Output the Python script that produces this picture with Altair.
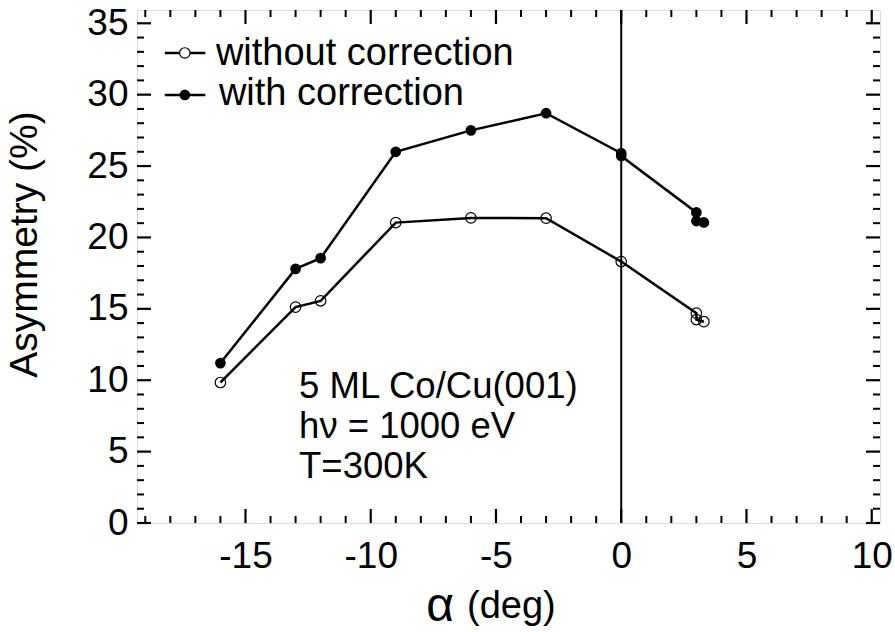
import altair as alt
import pandas as pd

# Measured asymmetry versus emission angle
angle_without = [-16, -13, -12, -9, -6, -3, 0, 3, 3, 3.3]
asym_without = [9.84, 15.12, 15.56, 21.04, 21.37, 21.35, 18.31, 14.7, 14.25, 14.1]

angle_with = [-16, -13, -12, -9, -6, -3, 0, 0, 3, 3, 3.3]
asym_with = [11.2, 17.8, 18.55, 26.0, 27.5, 28.7, 25.9, 25.7, 21.75, 21.15, 21.05]

series_names = ["without correction", "with correction"]

x_major = [-15, -10, -5, 0, 5, 10]
x_minor = [v for v in range(-19, 11) if v % 5 != 0]
y_major = [0, 5, 10, 15, 20, 25, 30, 35]
y_minor = [v for v in range(0, 36) if v % 5 != 0]

# legend rows: marker position, line ends, label position
legend_y_marker = [32.92, 29.98]
legend_y_text = [32.08, 29.28]
legend_x_line = [-18.22, -16.6]
legend_x_marker = -17.42
legend_x_text = [-16.18, -16.06]

note_lines = ["5 ML Co/Cu(001)", "h\u03bd = 1000 eV", "T=300K"]
note_x = -12.86
note_y = [8.74, 5.94, 3.14]

W, H = 743, 513
FONT = "Liberation Sans"

# plain hyphen for negative tick labels
HYPHEN_LABELS = "datum.value < 0 ? '-' + abs(datum.value) : '' + datum.value"

x_scale = alt.Scale(domain=[-19.33, 10.33], nice=False, zero=False)
y_scale = alt.Scale(domain=[0, 35.93], nice=False, zero=False)

x_axis = alt.Axis(values=x_major, ticks=False, domain=False, grid=False,
                  labelFontSize=37, labelFont=FONT, labelColor="black",
                  labelPadding=15, title=None, labelFlush=False,
                  labelExpr=HYPHEN_LABELS)
y_axis = alt.Axis(values=y_major, ticks=False, domain=False, grid=False,
                  labelFontSize=37, labelFont=FONT, labelColor="black",
                  labelPadding=9, title="Asymmetry (%)", titleFont=FONT,
                  titleFontSize=39, titleFontWeight="normal", titleColor="black",
                  titleAngle=270, titleX=-101, titleY=234,
                  titleBaseline="alphabetic", titleAlign="center", labelFlush=False)

X = lambda: alt.X("x:Q", scale=x_scale, axis=x_axis)
Y = lambda: alt.Y("y:Q", scale=y_scale, axis=y_axis)

df_without = pd.DataFrame({"x": angle_without, "y": asym_without,
                           "i": range(len(angle_without))})
df_with = pd.DataFrame({"x": angle_with, "y": asym_with,
                        "i": range(len(angle_with))})

line_w = alt.Chart(df_without).mark_line(color="black", strokeWidth=2.5).encode(
    x=X(), y=Y(), order="i:O")
pts_w = alt.Chart(df_without).mark_point(filled=False, color="black", size=110,
                                         strokeWidth=1.2, opacity=1).encode(x=X(), y=Y())
line_c = alt.Chart(df_with).mark_line(color="black", strokeWidth=2.5).encode(
    x=X(), y=Y(), order="i:O")
pts_c = alt.Chart(df_with).mark_circle(color="black", size=115, opacity=1).encode(
    x=X(), y=Y())

# vertical reference line at normal emission
zero_line = alt.Chart(pd.DataFrame({"x": [0]})).mark_rule(
    color="black", strokeWidth=2).encode(x=X())

# inward-pointing ticks on all four sides
def x_ticks(vals, length, sw):
    d = pd.DataFrame({"x": vals})
    bottom = alt.Chart(d).mark_rule(color="black", strokeWidth=sw).encode(
        x=X(), y=alt.value(H), y2=alt.value(H - length))
    top = alt.Chart(d).mark_rule(color="black", strokeWidth=sw).encode(
        x=X(), y=alt.value(0), y2=alt.value(length))
    return [bottom, top]

def y_ticks(vals, length, sw):
    d = pd.DataFrame({"y": vals})
    left = alt.Chart(d).mark_rule(color="black", strokeWidth=sw).encode(
        y=Y(), x=alt.value(0), x2=alt.value(length))
    right = alt.Chart(d).mark_rule(color="black", strokeWidth=sw).encode(
        y=Y(), x=alt.value(W), x2=alt.value(W - length))
    return [left, right]

ticks = (x_ticks(x_major, 14, 2.2) + x_ticks(x_minor, 7, 2)
         + y_ticks(y_major, 14, 2.2) + y_ticks(y_minor, 7, 2))

# legend
leg_lines = pd.DataFrame({
    "x": legend_x_line * 2,
    "y": [legend_y_marker[0]] * 2 + [legend_y_marker[1]] * 2,
    "s": [series_names[0]] * 2 + [series_names[1]] * 2,
})
leg_line = alt.Chart(leg_lines).mark_line(color="black", strokeWidth=2.5).encode(
    x=X(), y=Y(), detail="s:N")
leg_open = alt.Chart(pd.DataFrame({"x": [legend_x_marker], "y": [legend_y_marker[0]]})
                     ).mark_point(filled=True, fill="white", stroke="black", size=110,
                                  strokeWidth=1.2, opacity=1).encode(x=X(), y=Y())
leg_fill = alt.Chart(pd.DataFrame({"x": [legend_x_marker], "y": [legend_y_marker[1]]})
                     ).mark_circle(color="black", size=115, opacity=1).encode(x=X(), y=Y())
leg_text = alt.Chart(pd.DataFrame({"x": legend_x_text, "y": legend_y_text,
                                   "t": series_names})).mark_text(
    align="left", baseline="alphabetic", fontSize=38, font=FONT, color="black").encode(
    x=X(), y=Y(), text="t:N")

notes = alt.Chart(pd.DataFrame({"x": [note_x] * 3, "y": note_y, "t": note_lines})
                  ).mark_text(align="left", baseline="alphabetic", fontSize=36.5,
                              font=FONT, color="black").encode(x=X(), y=Y(), text="t:N")

# x-axis title with a larger alpha
title_alpha = alt.Chart(pd.DataFrame({"t": ["\u03b1"]})).mark_text(
    align="center", baseline="alphabetic", fontSize=48, font=FONT, color="black").encode(
    x=alt.value(303), y=alt.value(H + 98), text="t:N")
title_deg = alt.Chart(pd.DataFrame({"t": ["(deg)"]})).mark_text(
    align="left", baseline="alphabetic", fontSize=38, font=FONT, color="black").encode(
    x=alt.value(330), y=alt.value(H + 95), text="t:N")

chart = alt.layer(
    zero_line, line_w, line_c, pts_w, pts_c, *ticks,
    leg_line, leg_open, leg_fill, leg_text, notes, title_alpha, title_deg
).properties(
    width=W, height=H,
    autosize=alt.AutoSizeParams(type="none"),
    padding={"left": 137, "top": 10, "right": 15, "bottom": 109},
).configure_view(stroke="black", strokeWidth=2.5).configure(background="white")

chart.save("out.html", embed_options={"renderer": "svg", "actions": False})
